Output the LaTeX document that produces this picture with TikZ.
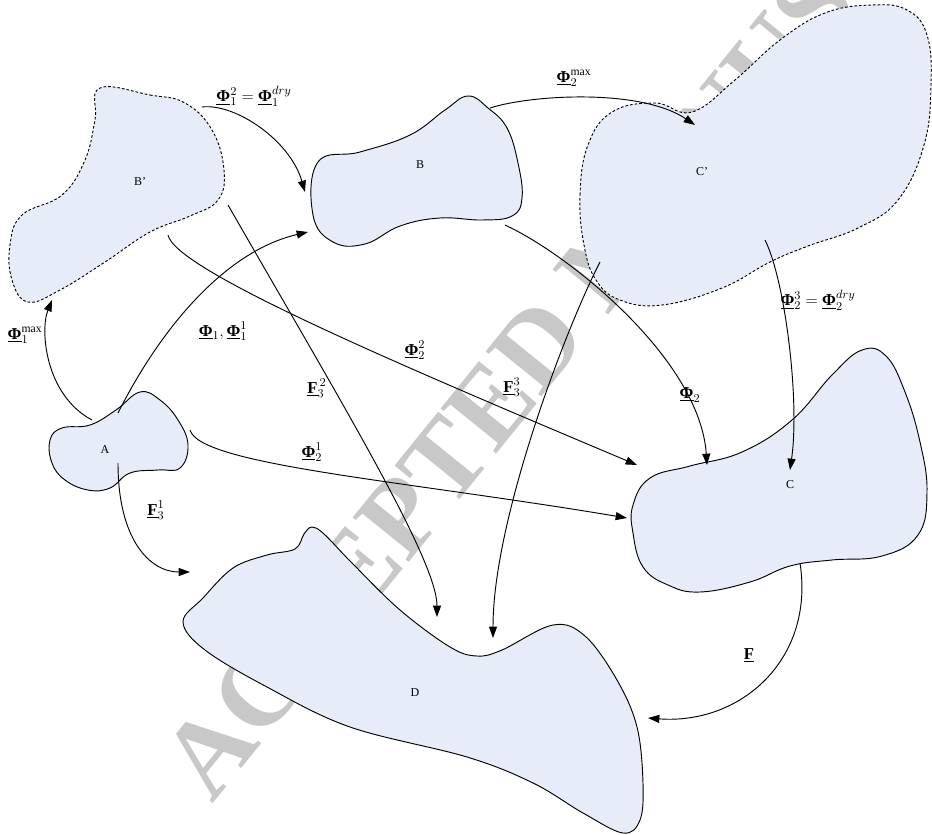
\documentclass[tikz,border=0pt]{standalone}
\usepackage{fontspec}
\setmainfont{Liberation Serif}
\usetikzlibrary{arrows.meta}
\definecolor{blobfill}{RGB}{230,237,248}
\definecolor{wmgray}{RGB}{200,200,200}
\newcommand{\vb}[1]{\underline{\mbox{\bfseries #1}}}
\begin{document}
\begin{tikzpicture}[x=0.75pt,y=-0.75pt,
  blob/.style={fill=blobfill,draw=black,line width=0.7pt},
  dblob/.style={blob,dash pattern=on 2pt off 1.5pt},
  conn/.style={draw,line width=0.7pt,-{Triangle[length=8.5pt,width=6pt]}},
  lbl/.style={font=\fontsize{12.5}{14}\selectfont,inner sep=0pt},
  bname/.style={font=\fontsize{9}{10}\selectfont,inner sep=0pt},
  wm/.style={font=\fontsize{82}{84}\selectfont\bfseries,text=wmgray,inner sep=0pt}]
\useasboundingbox (0,0) rectangle (932,835);
% watermark
\node[wm,anchor=base west,rotate=51] (wmk) at (212,805) {ACCEPTED MANUSCRIPT};
% blobs
\draw[dblob] plot[smooth cycle,tension=0.7] coordinates {(100,88) (150,95) (185,103) (212,130) (224,170) (218,200) (190,216) (150,232) (105,262) (60,290) (28,302) (12,280) (10,245) (22,215) (62,195) (85,160) (95,120)};
\draw[blob] plot[smooth cycle,tension=0.7] coordinates {(318,162) (360,152) (410,135) (445,110) (468,96) (488,108) (507,128) (518,163) (522,198) (512,216) (482,220) (440,218) (400,226) (365,244) (333,242) (313,215)};
\draw[dblob] plot[smooth cycle,tension=0.7] coordinates {(584,245) (580,195) (588,145) (612,112) (655,103) (692,112) (735,80) (780,40) (825,13) (872,5) (907,10) (927,35) (931,85) (924,145) (898,200) (858,228) (808,246) (770,262) (722,288) (662,305) (620,300) (596,280)};
\draw[blob] plot[smooth cycle,tension=0.7] coordinates {(633,505) (650,478) (690,466) (742,452) (792,420) (832,375) (862,350) (886,356) (905,392) (920,442) (927,492) (918,535) (882,556) (832,560) (790,566) (750,582) (700,592) (668,585) (643,567) (633,533)};
\draw[blob] plot[smooth cycle,tension=0.7] coordinates {(50,440) (62,428) (90,425) (116,410) (140,392) (160,400) (178,420) (188,445) (180,468) (158,470) (130,473) (110,488) (88,490) (65,480) (52,463)};
\draw[blob] plot[smooth cycle,tension=0.6] coordinates {(183,622) (203,598) (233,568) (267,555) (295,549) (304,534) (312,527) (324,534) (352,563) (400,610) (450,647) (477,656) (502,650) (553,625) (585,636) (617,680) (637,727) (643,783) (640,820) (623,833) (583,813) (533,783) (467,757) (350,727) (267,687) (205,650)};
% blob names
\node[bname] (nA) at (105,450) {A};
\node[bname] (nBp) at (140,182) {B’};
\node[bname] (nB) at (420,165) {B};
\node[bname] (nCp) at (702,172) {C’};
\node[bname] (nC) at (790,485) {C};
\node[bname] (nD) at (415,693) {D};
% connector end points
\coordinate (a1) at (92,420);   \coordinate (bp1) at (52,300);
\coordinate (a2) at (118,413);  \coordinate (b1) at (308,232);
\coordinate (a3) at (118,463);  \coordinate (d1) at (190,572);
\coordinate (a4) at (190,430);  \coordinate (c1) at (627,518);
\coordinate (bp2) at (168,235); \coordinate (c2) at (637,465);
\coordinate (bp3) at (228,205); \coordinate (d2) at (437,617);
\coordinate (bp4) at (202,107); \coordinate (b2) at (305,192);
\coordinate (b3) at (490,108);  \coordinate (cp1) at (695,125);
\coordinate (b4) at (505,225);  \coordinate (c3) at (707,465);
\coordinate (cp2) at (600,262); \coordinate (d3) at (493,638);
\coordinate (cp3) at (765,240); \coordinate (c4) at (790,470);
\coordinate (c5) at (800,563);  \coordinate (d4) at (648,718);
% connectors
\draw[conn] (a1) .. controls (45,395) and (40,330) .. (bp1);
\draw[conn] (a2) .. controls (165,320) and (230,250) .. (b1);
\draw[conn] (a3) .. controls (118,540) and (150,572) .. (d1);
\draw[conn] (a4) .. controls (200,465) and (400,480) .. (c1);
\draw[conn] (bp2) .. controls (175,270) and (400,365) .. (c2);
\draw[conn] (bp3) .. controls (340,400) and (437,560) .. (d2);
\draw[conn] (bp4) .. controls (235,103) and (290,140) .. (b2);
\draw[conn] (b3) .. controls (530,95) and (640,88) .. (cp1);
\draw[conn] (b4) .. controls (570,255) and (700,360) .. (c3);
\draw[conn] (cp2) .. controls (565,330) and (493,520) .. (d3);
\draw[conn] (cp3) .. controls (785,280) and (800,400) .. (c4);
\draw[conn] (c5) .. controls (815,660) and (740,725) .. (d4);
% labels
\node[lbl] (l1) at (254,96) {$\vb{Φ}_1^{2}=\vb{Φ}_1^{dry}$};
\node[lbl] (l2) at (574,78) {$\vb{Φ}_2^{\mathrm{max}}$};
\node[lbl] (l3) at (25,335) {$\vb{Φ}_1^{\mathrm{max}}$};
\node[lbl] (l4) at (223,331) {$\vb{Φ}_1,\vb{Φ}_1^{1}$};
\node[lbl] (l5) at (317,388) {$\vb{F}_3^{\,2}$};
\node[lbl] (l6) at (415,350) {$\vb{Φ}_2^{2}$};
\node[lbl] (l7) at (312,452) {$\vb{Φ}_2^{1}$};
\node[lbl] (l8) at (156,510) {$\vb{F}_3^{1}$};
\node[lbl] (l9) at (512,387) {$\vb{F}_3^{3}$};
\node[lbl] (l10) at (690,395) {$\vb{Φ}_2$};
\node[lbl] (l11) at (818,300) {$\vb{Φ}_2^{3}=\vb{Φ}_2^{dry}$};
\node[lbl] (l12) at (749,655) {$\vb{F}$};
\end{tikzpicture}
\end{document}
